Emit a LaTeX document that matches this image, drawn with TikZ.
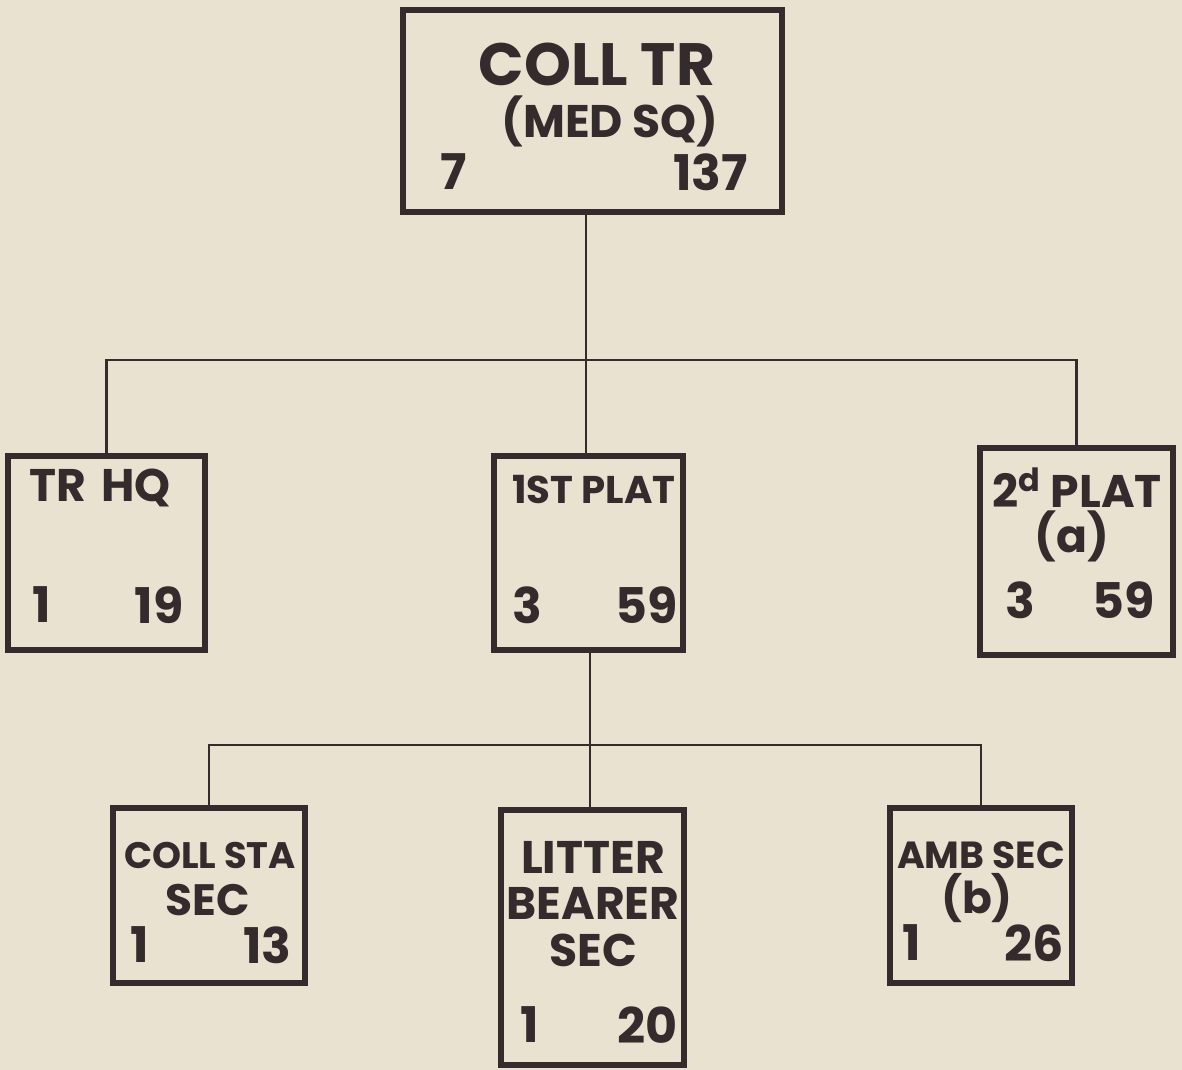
\documentclass[tikz,border=0pt]{standalone}
\usepackage{fontspec}
\setmainfont{Poppins}
\usetikzlibrary{fit}
\definecolor{paper}{RGB}{233,226,209}
\definecolor{ink}{RGB}{52,44,44}
\begin{document}
\begin{tikzpicture}[x=0.02cm,y=-0.02cm,
  box/.style={draw=ink,line width=3.2pt,inner sep=0pt,fit={#1}},
  conn/.style={draw=ink,line width=1.2pt},
  lbl/.style={text=ink,inner sep=0pt,font=\fontsize{#1}{#1}\selectfont\bfseries},
  lbl/.default=24,
  caps/.style={text height=24pt,text depth=0pt},
  paren/.style={text height=19pt,text depth=5pt},
  num/.style={text=ink,inner sep=0pt,font=\fontsize{28}{30}\selectfont\bfseries}]
\fill[paper] (0,0) rectangle (1182,1070);
\useasboundingbox (0,0) rectangle (1182,1070);
% boxes
\node[box={(403,10) (782,212)}] (top) {};
\node[box={(8,456) (205,650)}] (hq) {};
\node[box={(494,456) (683,650)}] (plat1) {};
\node[box={(980,448) (1173,655)}] (plat2) {};
\node[box={(113,808) (305,983)}] (coll) {};
\node[box={(501,810) (684,1065)}] (litter) {};
\node[box={(890,808) (1072,983)}] (amb) {};
% junctions
\coordinate (j1) at (586,360);
\coordinate (j2) at (590,745);
% connectors
\draw[conn] (top.south -| j1) -- (plat1.north -| j1);
\draw[conn] (hq.north) -- (hq.north |- j1) -- (plat2.north |- j1) -- (plat2.north);
\draw[conn] (plat1.south -| j2) -- (litter.north -| j2);
\draw[conn] (coll.north) -- (coll.north |- j2) -- (amb.north |- j2) -- (amb.north);
% texts: top
\node[lbl=34,caps] (t1) at (597,64) {COLL TR};
\node[lbl=26,paren] (t2) at (610,125) {(MED SQ)};
\node[num,anchor=west] (t3) at (440,172) {7};
\node[num,anchor=east] (t4) at (748,172) {137};
% TR HQ
\node[lbl=26] (h1) at (100,488) {TR\,\,HQ};
\node[num,anchor=west] (h2) at (32,605) {1};
\node[num,anchor=east] (h3) at (184,605) {19};
% 1st plat
\node[lbl=22] (p1) at (594,490) {1ST PLAT};
\node[num,anchor=west] (p2) at (512,605) {3};
\node[num,anchor=east] (p3) at (678,605) {59};
% 2d plat
\node[lbl=26] (q1) at (1077,488) {2\textsuperscript{d} PLAT};
\node[lbl=26] (q2) at (1072,536) {(a)};
\node[num,anchor=west] (q3) at (1005,600) {3};
\node[num,anchor=east] (q4) at (1155,600) {59};
% coll sta sec
\node[lbl=21] (c1) at (210,855) {COLL STA};
\node[lbl=25] (c2) at (208,900) {SEC};
\node[num,anchor=west] (c3) at (130,945) {1};
\node[num,anchor=east] (c4) at (292,945) {13};
% litter bearer sec
\node[lbl=26] (l1) at (593,857) {LITTER};
\node[lbl=26] (l2) at (593,903) {BEARER};
\node[lbl=26] (l3) at (593,950) {SEC};
\node[num,anchor=west] (l4) at (520,1025) {1};
\node[num,anchor=east] (l5) at (678,1025) {20};
% amb sec
\node[lbl=21.5] (a1) at (981,855) {AMB SEC};
\node[lbl=25] (a2) at (977,898) {(b)};
\node[num,anchor=west] (a3) at (902,943) {1};
\node[num,anchor=east] (a4) at (1064,943) {26};
\end{tikzpicture}
\end{document}
